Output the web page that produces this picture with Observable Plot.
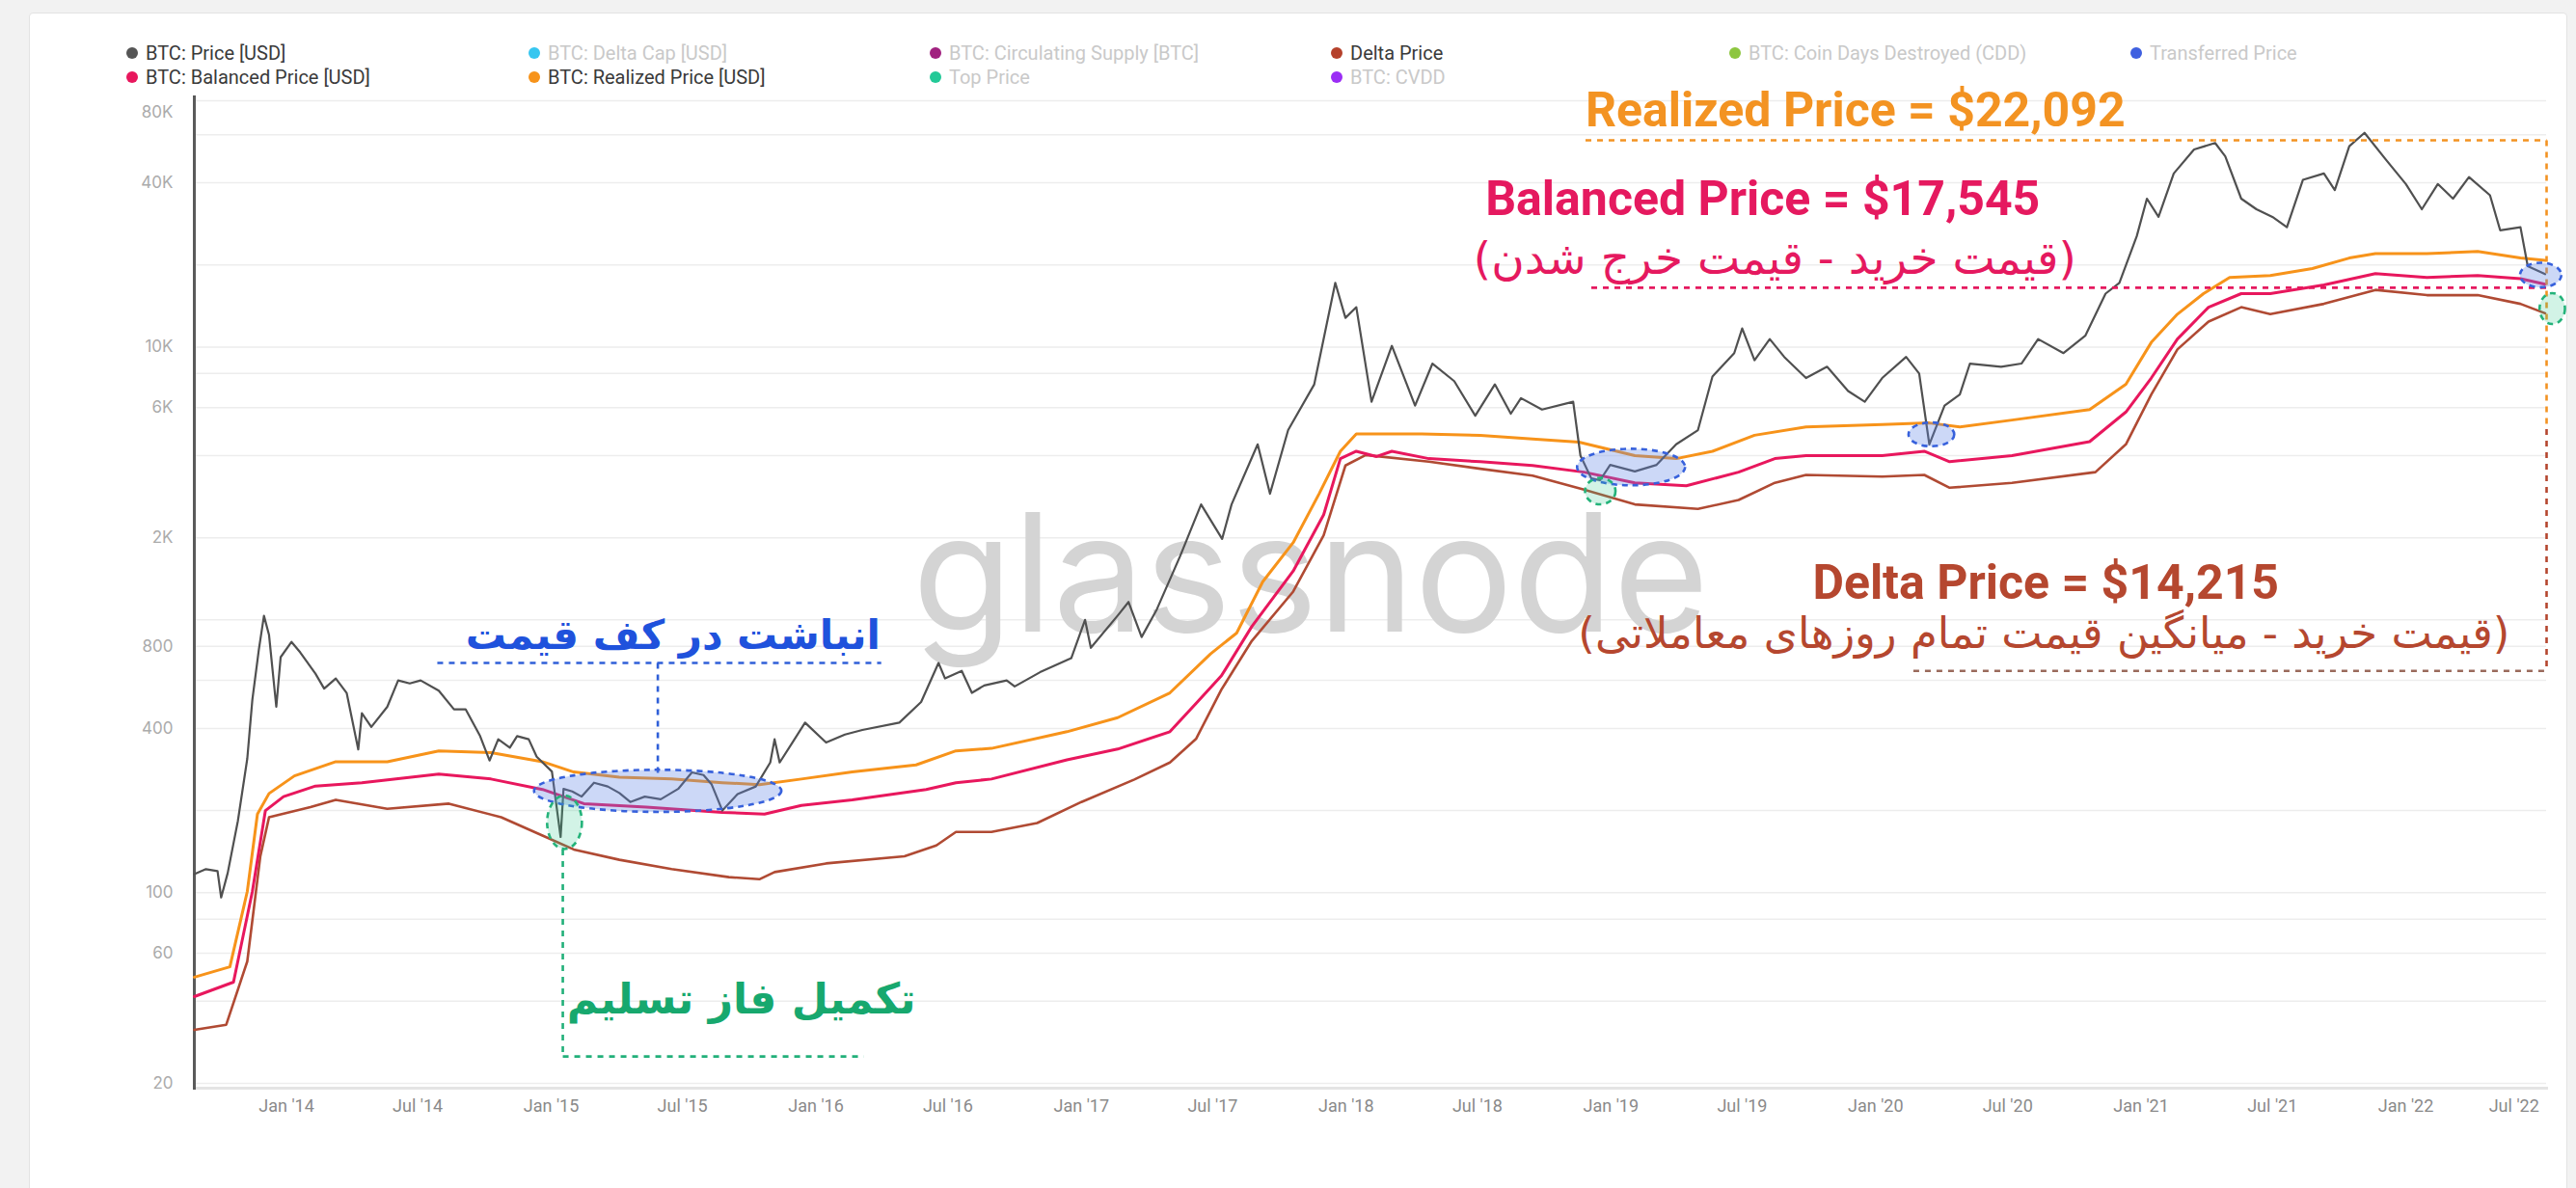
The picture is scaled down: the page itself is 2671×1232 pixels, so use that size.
<!DOCTYPE html>
<html><head><meta charset="utf-8">
<script src="https://cdn.jsdelivr.net/npm/d3@7"></script>
<script src="https://cdn.jsdelivr.net/npm/@observablehq/plot@0.6"></script>
<style>
html,body{margin:0;padding:0;background:#f2f2f2;}
#wrap{position:relative;width:2671px;height:1232px;overflow:hidden;background:#f2f2f2;}
#card{position:absolute;left:30px;top:13px;width:2630px;height:1260px;background:#fff;border:1px solid #e3e3e3;border-radius:4px;}
#legend{position:absolute;left:0;top:0;width:2671px;height:95px;}
.li{position:absolute;font:20px Roboto, sans-serif;white-space:nowrap;display:flex;align-items:center;height:24px;}
.li .dot{width:12px;height:12px;border-radius:50%;margin-right:8px;flex:none;}
#chart{position:absolute;left:0;top:95px;}
</style></head>
<body>
<div id="wrap"><div id="card"></div><div id="legend"></div><div id="chart"></div></div>
<script>
// ---------------- DATA ----------------
const legendNames = ["BTC: Price [USD]","BTC: Delta Cap [USD]","BTC: Circulating Supply [BTC]","Delta Price","BTC: Coin Days Destroyed (CDD)","Transferred Price","BTC: Balanced Price [USD]","BTC: Realized Price [USD]","Top Price","BTC: CVDD"];
const legendColors = ["#555555","#36c6f0","#a1217f","#b5412b","#8dc63f","#3f60e0","#e8175d","#f7931a","#22c997","#9b2df5"];
const legendActive = [true,false,false,true,false,false,true,true,false,false];

const yTickValues = [20,60,100,400,800,2000,6000,10000,40000,80000];
const yTickLabels = ["20","60","100","400","800","2K","6K","10K","40K","80K"];
const gridValues = [20,40,60,80,100,200,400,600,800,1000,2000,4000,6000,8000,10000,20000,40000,60000,80000];

const xTickDates = ["2014-01-01","2014-07-01","2015-01-01","2015-07-01","2016-01-01","2016-07-01","2017-01-01","2017-07-01","2018-01-01","2018-07-01","2019-01-01","2019-07-01","2020-01-01","2020-07-01","2021-01-01","2021-07-01","2022-01-01","2022-07-01"];
const xTickLabels = ["Jan '14","Jul '14","Jan '15","Jul '15","Jan '16","Jul '16","Jan '17","Jul '17","Jan '18","Jul '18","Jan '19","Jul '19","Jan '20","Jul '20","Jan '21","Jul '21","Jan '22","Jul '22"];

const priceDates = ["2013-08-27","2013-09-12","2013-09-28","2013-10-03","2013-10-12","2013-10-26","2013-11-08","2013-11-15","2013-11-24","2013-12-01","2013-12-08","2013-12-18","2013-12-24","2014-01-08","2014-01-20","2014-02-10","2014-02-22","2014-03-10","2014-03-25","2014-04-10","2014-04-15","2014-04-28","2014-05-20","2014-06-04","2014-06-20","2014-07-05","2014-07-30","2014-08-20","2014-09-05","2014-09-25","2014-10-08","2014-10-20","2014-11-05","2014-11-15","2014-12-01","2014-12-12","2015-01-02","2015-01-14","2015-01-18","2015-01-30","2015-02-12","2015-03-01","2015-03-20","2015-04-05","2015-04-20","2015-05-10","2015-06-01","2015-06-25","2015-07-14","2015-07-30","2015-08-10","2015-08-25","2015-09-15","2015-10-10","2015-10-30","2015-11-05","2015-11-12","2015-12-01","2015-12-17","2016-01-15","2016-02-10","2016-03-05","2016-04-25","2016-05-25","2016-06-18","2016-06-27","2016-07-20","2016-08-03","2016-08-20","2016-09-20","2016-10-01","2016-11-05","2016-12-18","2017-01-06","2017-01-14","2017-02-20","2017-03-07","2017-03-25","2017-04-15","2017-05-17","2017-06-15","2017-07-14","2017-07-27","2017-09-01","2017-09-18","2017-10-13","2017-11-18","2017-12-17","2017-12-31","2018-01-15","2018-02-05","2018-03-05","2018-04-06","2018-04-30","2018-05-30","2018-06-28","2018-07-25","2018-08-16","2018-08-30","2018-09-28","2018-11-10","2018-11-20","2018-12-05","2018-12-17","2018-12-31","2019-02-03","2019-03-05","2019-04-01","2019-05-01","2019-05-21","2019-06-20","2019-07-01","2019-07-18","2019-08-08","2019-08-28","2019-09-27","2019-10-26","2019-11-24","2019-12-17","2020-01-10","2020-02-12","2020-03-01","2020-03-15","2020-04-05","2020-04-26","2020-05-10","2020-06-22","2020-07-20","2020-08-12","2020-09-16","2020-10-16","2020-11-13","2020-12-02","2020-12-26","2021-01-09","2021-01-25","2021-02-15","2021-03-15","2021-04-13","2021-04-27","2021-05-19","2021-06-09","2021-07-01","2021-07-21","2021-08-12","2021-09-10","2021-09-25","2021-10-15","2021-11-05","2021-12-04","2022-01-01","2022-01-23","2022-02-14","2022-03-07","2022-03-29","2022-04-27","2022-05-11","2022-06-08","2022-06-18","2022-07-12"];
const priceValues = [117,122,120,96,118,183,310,510,780,1035,880,480,730,830,760,635,560,610,540,335,455,405,480,600,585,600,550,470,470,375,305,365,340,375,365,315,278,160,240,235,225,253,245,232,215,225,220,240,276,270,250,200,230,245,300,365,300,360,420,355,380,395,420,500,695,610,650,540,575,600,570,643,724,1000,790,1037,1163,865,1093,1710,2650,1980,2650,4400,2900,4960,7300,17200,12800,14000,6300,10100,6100,8700,7500,5600,7300,5700,6500,5900,6300,4000,3300,3250,3700,3500,3700,4400,4960,7800,9500,11700,8950,10700,9200,7700,8470,6900,6300,7700,9200,8000,4400,6100,6700,8700,8470,8700,10700,9500,11000,15700,17200,25500,35000,30000,43300,53000,56000,50000,35000,32000,30000,27500,41000,43300,37600,54500,61000,48800,39600,32000,39600,35000,42000,36000,26800,27500,19800,18500];

const realizedDates = ["2013-08-27","2013-10-15","2013-11-08","2013-11-22","2013-12-08","2014-01-12","2014-03-10","2014-05-20","2014-07-30","2014-10-10","2014-12-20","2015-02-01","2015-04-05","2015-06-16","2015-08-25","2015-10-15","2015-12-12","2016-02-20","2016-05-18","2016-07-12","2016-08-30","2016-12-12","2017-02-20","2017-05-03","2017-06-28","2017-08-03","2017-09-08","2017-10-20","2017-11-25","2017-12-24","2018-01-15","2018-04-15","2018-07-05","2018-09-15","2018-11-18","2019-02-03","2019-04-01","2019-05-21","2019-07-18","2019-09-27","2020-01-10","2020-03-15","2020-04-26","2020-07-07","2020-10-22","2020-12-11","2021-01-15","2021-02-20","2021-03-28","2021-05-03","2021-06-28","2021-08-25","2021-10-15","2021-11-20","2022-01-30","2022-04-10","2022-06-08","2022-07-12"];
const realizedValues = [49,53.5,101,194,231,268,302,302,331,326,302,277,265,261,253,249,261,277,294,331,338,389,438,540,750,895,1380,1920,2910,4150,4800,4800,4750,4600,4480,4000,3900,4150,4750,5100,5200,5270,5100,5400,5900,7300,10400,13200,15700,18000,18300,19400,21200,22000,22000,22400,21200,20800];

const balancedDates = ["2013-08-27","2013-10-20","2013-11-15","2013-12-03","2013-12-28","2014-02-10","2014-04-15","2014-07-30","2014-10-10","2014-12-20","2015-02-15","2015-05-12","2015-08-25","2015-10-22","2015-12-12","2016-02-20","2016-06-01","2016-07-12","2016-08-30","2016-12-12","2017-02-20","2017-05-03","2017-06-08","2017-07-13","2017-08-24","2017-10-20","2017-12-01","2017-12-24","2018-01-15","2018-02-12","2018-03-05","2018-04-25","2018-07-05","2018-09-15","2018-11-25","2019-02-03","2019-04-15","2019-06-26","2019-08-15","2019-09-27","2020-01-10","2020-03-08","2020-04-12","2020-07-07","2020-10-22","2020-12-11","2021-01-15","2021-02-20","2021-04-04","2021-05-19","2021-06-28","2021-09-10","2021-11-20","2022-01-30","2022-04-10","2022-06-08","2022-07-12"];
const balancedValues = [41.6,47,101,200,225,246,253,272,261,239,212,206,197,194,209,219,239,253,261,307,336,389,494,624,946,1510,2430,3900,4150,3970,4150,3900,3800,3680,3480,3180,3100,3480,3900,4000,4000,4150,3800,4000,4500,5780,7700,10700,14000,15700,15700,16900,18600,18000,18300,17800,17000];

const deltaDates = ["2013-08-27","2013-10-10","2013-11-08","2013-11-26","2013-12-08","2014-02-03","2014-03-10","2014-05-20","2014-08-13","2014-10-24","2014-12-20","2015-02-01","2015-04-05","2015-06-16","2015-09-03","2015-10-15","2015-11-05","2016-01-15","2016-05-02","2016-06-15","2016-07-12","2016-08-30","2016-11-01","2017-01-01","2017-03-15","2017-05-03","2017-06-08","2017-07-13","2017-08-24","2017-10-20","2017-12-01","2017-12-31","2018-01-28","2018-04-25","2018-07-05","2018-09-15","2018-11-25","2019-02-03","2019-05-01","2019-06-26","2019-08-15","2019-09-27","2020-01-10","2020-03-08","2020-04-12","2020-07-07","2020-10-30","2020-12-11","2021-01-15","2021-02-20","2021-04-04","2021-05-19","2021-06-28","2021-09-10","2021-11-20","2022-01-30","2022-04-10","2022-06-08","2022-07-12"];
const deltaValues = [31.4,32.8,56,136,189,206,219,203,212,189,162,144,132,122,114,112,119,128,136,149,167,167,180,215,260,300,366,555,838,1270,2040,3680,4020,3800,3580,3380,3000,2650,2550,2750,3180,3400,3350,3400,3050,3180,3480,4400,6700,9800,12400,14000,13200,14400,16200,15500,15500,14400,13300];

const xDomain = ["2013-08-27","2022-07-14"];
const yDomain = [19.2, 82600];

// annotations (anchored in data space)
const annoTexts = [
  {date:"2018-11-27", value:64700, text:"Realized Price = $22,092", color:"#f39322", size:50, weight:700, font:"Roboto", anchor:"start", line:"bottom"},
  {date:"2018-07-12", value:30600, text:"Balanced Price = $17,545", color:"#e5195f", size:50, weight:700, font:"Roboto", anchor:"start", line:"bottom"},
  {date:"2019-08-15", value:21000, text:"(قیمت خرید - قیمت خرج شدن)", color:"#e5195f", size:47, weight:400, font:"DejaVu Sans", anchor:"middle", line:"middle"},
  {date:"2019-10-06", value:1198, text:"Delta Price = $14,215", color:"#b5472f", size:50, weight:700, font:"Roboto", anchor:"start", line:"bottom"},
  {date:"2020-08-20", value:887, text:"(قیمت خرید - میانگین قیمت تمام روزهای معاملاتی)", color:"#b5472f", size:45, weight:400, font:"DejaVu Sans", anchor:"middle", line:"middle"},
  {date:"2015-06-18", value:873, text:"انباشت در کف قیمت", color:"#1f52dc", size:42, weight:700, font:"DejaVu Sans", anchor:"middle", line:"middle"},
  {date:"2015-09-20", value:40.5, text:"تکمیل فاز تسلیم", color:"#17a86e", size:44, weight:700, font:"DejaVu Sans", anchor:"middle", line:"middle"}
];
const annoDashes = [
  {d1:"2018-11-27", v1:57300, d2:"2022-07-14", v2:57300, color:"#f39322"},
  {d1:"2022-07-14", v1:57300, d2:"2022-07-14", v2:5000, color:"#f39322"},
  {d1:"2022-07-14", v1:5000, d2:"2022-07-14", v2:650, color:"#b5472f"},
  {d1:"2018-12-05", v1:16500, d2:"2022-07-14", v2:16500, color:"#e5195f"},
  {d1:"2020-02-22", v1:650, d2:"2022-07-14", v2:650, color:"#9a6a5c"},
  {d1:"2014-07-28", v1:695, d2:"2016-03-31", v2:695, color:"#2f5fd8"},
  {d1:"2015-05-28", v1:695, d2:"2015-05-28", v2:270, color:"#2f5fd8"},
  {d1:"2015-01-17", v1:144, d2:"2015-01-17", v2:25.1, color:"#22b07a"},
  {d1:"2015-01-17", v1:25.1, d2:"2016-03-07", v2:25.1, color:"#22b07a"}
];
const annoEllipses = [
  {d1:"2014-12-09", d2:"2015-11-15", v1:281, v2:197, kind:"blue"},
  {d1:"2014-12-27", d2:"2015-02-13", v1:226, v2:144, kind:"green"},
  {d1:"2018-11-16", d2:"2019-04-14", v1:4220, v2:3100, kind:"blue"},
  {d1:"2018-11-27", d2:"2019-01-08", v1:3300, v2:2640, kind:"green"},
  {d1:"2020-02-16", d2:"2020-04-19", v1:5270, v2:4310, kind:"blue"},
  {d1:"2022-06-08", d2:"2022-08-04", v1:20300, v2:16500, kind:"blue"},
  {d1:"2022-07-05", d2:"2022-08-09", v1:15700, v2:12100, kind:"green"}
];
const watermark = {date:"2017-11-13", value:908, text:"glassnode"};

// ---------------- BUILD ----------------
const parse = d3.utcParse("%Y-%m-%d");
const series = (ds, vs) => ds.map((d, i) => ({date: parse(d), value: vs[i]}));
const price = series(priceDates, priceValues);
const realized = series(realizedDates, realizedValues);
const balanced = series(balancedDates, balancedValues);
const delta = series(deltaDates, deltaValues);
const xTicks = xTickDates.map((d, i) => ({date: parse(d), label: xTickLabels[i]}));
const yTicks = yTickValues.map((v, i) => ({value: v, label: yTickLabels[i]}));

// legend (HTML, above the SVG)
const legendX = [137, 554, 970, 1386, 1799, 2215];
const legendY = [55, 80];
const legendEl = document.getElementById("legend");
legendNames.forEach((name, i) => {
  const row = i < 6 ? 0 : 1, col = i < 6 ? i : i - 6;
  const div = document.createElement("div");
  div.className = "li";
  div.style.left = (legendX[col] - 6) + "px";
  div.style.top = (legendY[row] - 12) + "px";
  div.style.color = legendActive[i] ? "#3a3a3a" : "#c9c9c9";
  div.innerHTML = `<span class="dot" style="background:${legendColors[i]}"></span><span>${name}</span>`;
  legendEl.appendChild(div);
});

const textMark = (a) => Plot.text([a], {
  x: d => parse(d.date), y: d => d.value, text: d => d.text,
  fill: a.color, fontSize: a.size, fontWeight: a.weight, fontFamily: a.font,
  textAnchor: a.anchor, lineAnchor: a.line
});

const chart = Plot.plot({
  width: 2671, height: 1137,
  marginLeft: 201, marginRight: 31, marginTop: 5, marginBottom: 104,
  x: {type: "utc", domain: xDomain.map(parse), axis: null},
  y: {type: "log", domain: yDomain, axis: null},
  color: {type: "identity"},
  style: {background: "transparent", overflow: "visible", fontFamily: "Inter, sans-serif"},
  marks: [
    Plot.ruleY(gridValues, {stroke: "#ededed", strokeWidth: 1.5}),
    Plot.text([watermark], {x: d => parse(d.date), y: d => d.value, text: d => d.text,
      fill: "#d4d4d4", fontSize: 170, fontFamily: "Inter", fontWeight: 400, textAnchor: "middle", lineAnchor: "bottom"}),
    Plot.frame({anchor: "bottom", stroke: "#e4e4e4", strokeWidth: 3}),
    Plot.frame({anchor: "left", stroke: "#5a5a5a", strokeWidth: 3}),
    Plot.text(yTicks.slice(0, -1), {y: "value", text: "label", frameAnchor: "left", dx: -22, textAnchor: "end",
      fill: "#ababab", fontSize: 17, fontFamily: "Inter"}),
    Plot.text(yTicks.slice(-1), {y: "value", text: "label", frameAnchor: "left", dx: -22, dy: 12, textAnchor: "end",
      fill: "#ababab", fontSize: 17, fontFamily: "Inter"}),
    Plot.text(xTicks.slice(0, -1), {x: "date", text: "label", frameAnchor: "bottom", dy: 12, lineAnchor: "top",
      fill: "#8a8a8a", fontSize: 18, fontFamily: "Roboto"}),
    Plot.text(xTicks.slice(-1), {x: "date", text: "label", frameAnchor: "bottom", dy: 12, dx: -24, lineAnchor: "top",
      fill: "#8a8a8a", fontSize: 18, fontFamily: "Roboto"}),
    Plot.line(delta, {x: "date", y: "value", stroke: "#b04a33", strokeWidth: 2.6}),
    Plot.line(balanced, {x: "date", y: "value", stroke: "#e8175d", strokeWidth: 3}),
    Plot.line(realized, {x: "date", y: "value", stroke: "#f7931a", strokeWidth: 3}),
    Plot.line(price, {x: "date", y: "value", stroke: "#505050", strokeWidth: 2.2}),
    Plot.link(annoDashes, {x1: d => parse(d.d1), y1: "v1", x2: d => parse(d.d2), y2: "v2",
      stroke: "color", strokeWidth: 2.6, strokeDasharray: "6,6"}),
    ...annoTexts.map(textMark)
  ]
});

// ellipses through the chart's own scales
const sx = chart.scale("x"), sy = chart.scale("y");
const g = d3.select(chart).append("g");
annoEllipses.forEach(e => {
  const x1 = sx.apply(parse(e.d1)), x2 = sx.apply(parse(e.d2));
  const y1 = sy.apply(e.v1), y2 = sy.apply(e.v2);
  const blue = e.kind === "blue";
  g.append("ellipse")
    .attr("cx", (x1 + x2) / 2).attr("cy", (y1 + y2) / 2)
    .attr("rx", Math.abs(x2 - x1) / 2).attr("ry", Math.abs(y2 - y1) / 2)
    .attr("fill", blue ? "rgba(95,135,230,0.32)" : "rgba(50,200,140,0.22)")
    .attr("stroke", blue ? "#3761dc" : "#24b37a")
    .attr("stroke-width", 2.6).attr("stroke-dasharray", "6,5");
});

document.getElementById("chart").appendChild(chart);
</script>
</body></html>
